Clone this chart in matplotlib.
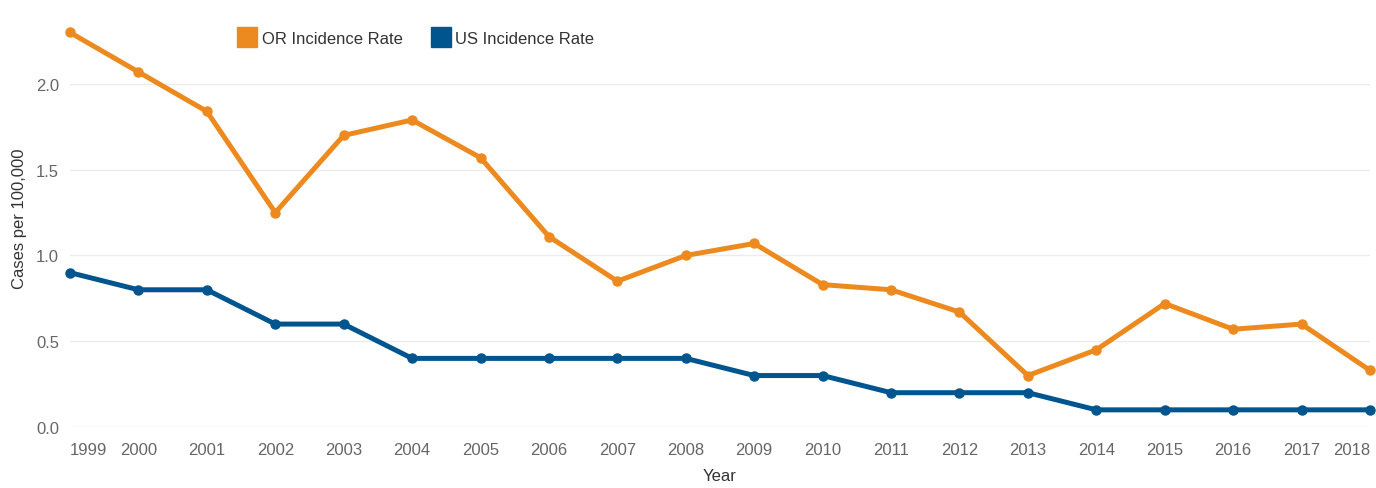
import matplotlib
matplotlib.use("Agg")
import matplotlib.pyplot as plt
from matplotlib.lines import Line2D

years = list(range(1999, 2019))
or_rate = [2.30, 2.07, 1.84, 1.25, 1.70, 1.79, 1.57, 1.11, 0.85, 1.00,
           1.07, 0.83, 0.80, 0.67, 0.30, 0.45, 0.72, 0.57, 0.60, 0.33]
us_rate = [0.9, 0.8, 0.8, 0.6, 0.6, 0.4, 0.4, 0.4, 0.4, 0.4,
           0.3, 0.3, 0.2, 0.2, 0.2, 0.1, 0.1, 0.1, 0.1, 0.1]
yticks = [0.0, 0.5, 1.0, 1.5, 2.0]

OR_COLOR = "#EC8A1F"
US_COLOR = "#00558F"

plt.rcParams["font.family"] = ["Liberation Sans", "DejaVu Sans"]
FS = 12

W, H = 1376, 489
fig = plt.figure(figsize=(W / 100, H / 100), dpi=100)
# plot area in pixel coords: x 70..1370, y 10..428
ax = fig.add_axes([70 / W, 1 - 428 / H, 1300 / W, 418 / H])

ax.plot(years, or_rate, color=OR_COLOR, lw=3.6, marker="o", ms=6.5,
        clip_on=False, zorder=3, solid_joinstyle="round")
ax.plot(years, us_rate, color=US_COLOR, lw=3.6, marker="o", ms=6.5,
        clip_on=False, zorder=3, solid_joinstyle="round")

ax.set_xlim(1999, 2018)
ax.set_ylim(0, 2.437)
ax.set_yticks(yticks)
ax.set_yticklabels([f"{v:.1f}" for v in yticks])
ax.set_xticks(years)
ax.set_xticklabels([str(y) for y in years])
labels = ax.get_xticklabels()
labels[0].set_horizontalalignment("left")
labels[-1].set_horizontalalignment("right")

ax.tick_params(axis="both", length=0, labelsize=FS, labelcolor="#666666")
ax.tick_params(axis="y", pad=8)
ax.tick_params(axis="x", pad=11)
ax.grid(axis="y", color="#ececec", lw=1)
ax.set_axisbelow(True)
for s in ax.spines.values():
    s.set_visible(False)

ax.set_xlabel("Year", fontsize=FS, color="#333333", labelpad=8)
ax.set_ylabel("Cases per 100,000", fontsize=FS, color="#333333", labelpad=6)

handles = [
    Line2D([], [], ls="none", marker="s", ms=14.4, color=OR_COLOR),
    Line2D([], [], ls="none", marker="s", ms=14.4, color=US_COLOR),
]
fig.legend(handles, ["OR Incidence Rate", "US Incidence Rate"],
           loc="center left", bbox_to_anchor=(239 / W, 1 - 39 / H),
           ncol=2, frameon=False, fontsize=FS, labelcolor="#333333",
           handlelength=1.0, handletextpad=0.35, columnspacing=1.8,
           borderpad=0, borderaxespad=0)

fig.savefig("out.png", dpi=100)
